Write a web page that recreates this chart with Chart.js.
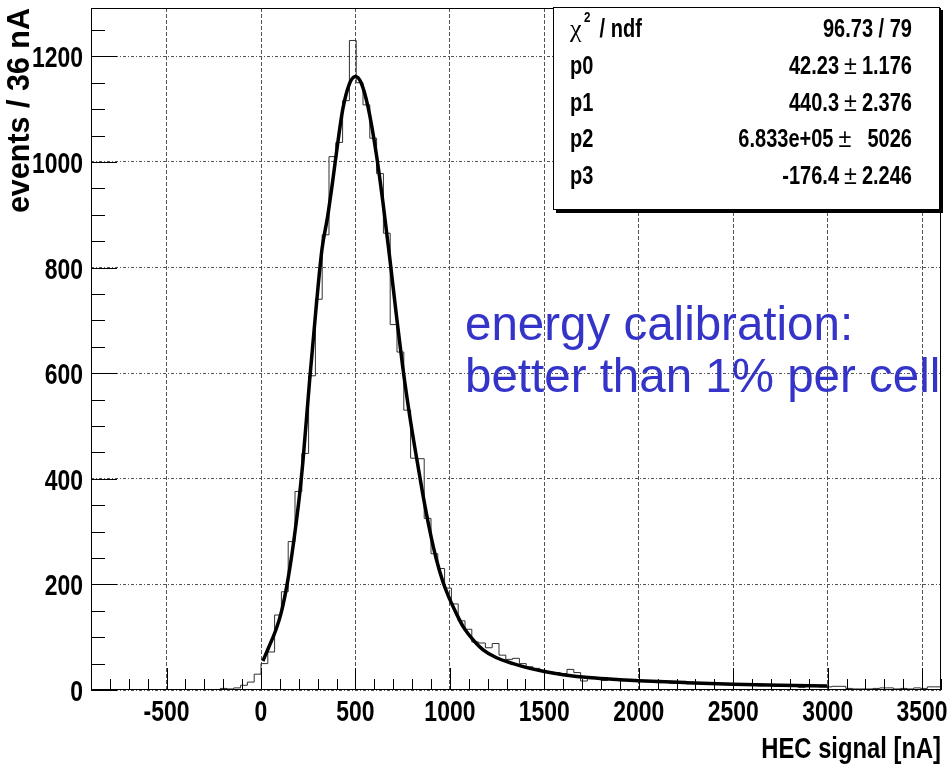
<!DOCTYPE html>
<html><head><meta charset="utf-8">
<script src="https://cdn.jsdelivr.net/npm/chart.js@4.4.1/dist/chart.umd.min.js"></script>
<style>html,body{margin:0;padding:0;background:#fff;}#wrap{width:950px;height:766px;position:relative;}</style>
</head><body><div id="wrap"><canvas id="c" width="950" height="766"></canvas></div>
<script>
// ---- data ----
const binLow = -900;
const binWidth = 36;
const counts = [
  0,0,0,0,0,0,0,0,0,0,0,0,0,0,0,0,0,
  1,1,3,2,4,9,15,30,
  50,72,142,186,281,376,448,595,740,862,
  1010,1037,1116,1230,1150,1108,1045,978,865,692,
  640,530,439,438,325,258,230,193,163,131,
  115,91,89,80,88,66,58,60,50,44,
  41,37,34,33,31,39,33,17,22,22,
  18,21,20,19,20,17,16,16,14,15,
  13,14,12,13,12,11,13,11,10,11,
  9,10,9,8,9,8,8,7,8,5,
  7,7,6,6,7,7,3,2,2,2,
  3,4,4,2,3,2,4,3,6,6
];
const fitX = [10,40,80,106,133,160,186,205,222,256,292,323,352,380,406,433,468,500,530,566,610,645,681,716,751,787,822,857,893,928,963,999,1034,1070,1123,1176,1247,1335,1423,1500,1600,1750,1900,2000,2250,2500,2750,3000];
const fitY = [55,80,115,145,190,248,316,372,433,580,725,835,895,965,1035,1100,1148,1162,1150,1105,1016,925,820,712,610,520,443,370,303,248,205,172,145,120,95,76,61,50,41,35,29,23,19.5,17.5,14,11,9,7.5];
const xTicks = [-500,0,500,1000,1500,2000,2500,3000,3500];
const yTicks = [0,200,400,600,800,1000,1200];
const xRange = [-900, 3600];
const yRange = [0, 1291.5];
const xTitle = 'HEC signal [nA]';
const yTitle = 'events / 36 nA';
const chiLabel = ['\u03c7', '2', ' / ndf'];
const chiValue = '96.73 / 79';
const parLabels = ['p0','p1','p2','p3'];
const parValues = ['42.23','440.3','6.833e+05','-176.4'];
const parErrors = ['1.176','2.376','  5026','2.246'];
const noteLines = ['energy calibration:', 'better than 1% per cell'];

// ---- build library structures ----
const histPts = counts.map((c, i) => ({x: binLow + i * binWidth, y: c}));
histPts.push({x: binLow + counts.length * binWidth, y: counts[counts.length - 1]});
const fitPts = fitX.map((x, i) => ({x: x, y: fitY[i]}));

const SANS = "'Liberation Sans', Arial, sans-serif";

function narrowText(ctx, text, x, y, align, font, k) {
  ctx.save();
  ctx.font = font;
  ctx.textAlign = align;
  ctx.textBaseline = 'alphabetic';
  ctx.translate(x, y);
  ctx.scale(k, 1);
  ctx.fillText(text, 0, 0);
  const w = ctx.measureText(text).width * k;
  ctx.restore();
  return w;
}

const decor = {
  id: 'decor',
  afterDatasetsDraw(chart) {
    const {ctx, chartArea: a, scales: {x, y}} = chart;
    ctx.save();
    ctx.strokeStyle = '#000';
    ctx.lineWidth = 1;
    ctx.beginPath();
    for (let v = xRange[0]; v <= xRange[1]; v += 100) {
      const px = Math.round(x.getPixelForValue(v)) + 0.5;
      const len = (v % 500 === 0) ? 22 : 11;
      ctx.moveTo(px, a.bottom);
      ctx.lineTo(px, a.bottom - len);
    }
    for (let v = yRange[0]; v <= yRange[1]; v += 50) {
      const py = Math.round(y.getPixelForValue(v)) + 0.5;
      const len = (v % 200 === 0) ? 26 : 14;
      ctx.moveTo(a.left, py);
      ctx.lineTo(a.left + len, py);
    }
    ctx.stroke();
    ctx.strokeRect(a.left + 0.5, a.top + 0.5, a.right - a.left - 1, a.bottom - a.top - 1);
    ctx.fillStyle = '#000';
    const tf = "bold 30px " + SANS;
    xTicks.forEach(v => narrowText(ctx, String(v), x.getPixelForValue(v), a.bottom + 31, 'center', tf, 0.765));
    yTicks.forEach(v => narrowText(ctx, String(v), a.left - 8, y.getPixelForValue(v) + 11, 'right', tf, 0.765));
    narrowText(ctx, xTitle, a.right, 758, 'right', "bold 29px " + SANS, 0.82);
    ctx.restore();
  },
  afterDraw(chart) {
    const ctx = chart.ctx;
    ctx.save();
    // stats box
    const bx = 553, by = 7, bw = 387, bh = 203;
    ctx.fillStyle = '#000';
    ctx.fillRect(bx + 3, by + 3, bw, bh);
    ctx.fillStyle = '#fff';
    ctx.fillRect(bx, by, bw, bh);
    ctx.strokeStyle = '#000';
    ctx.lineWidth = 1;
    ctx.strokeRect(bx + 0.5, by + 0.5, bw - 1, bh - 1);
    ctx.fillStyle = '#000';
    const rowY = [37, 74, 111, 147, 184];
    const sf = "bold 26px " + SANS;
    const K = 0.77;
    ctx.font = "26px 'Liberation Serif', serif";
    ctx.textAlign = 'left';
    ctx.textBaseline = 'alphabetic';
    ctx.fillText(chiLabel[0], 570, rowY[0]);
    narrowText(ctx, chiLabel[1], 584, rowY[0] - 15, 'left', "bold 15px " + SANS, K);
    narrowText(ctx, chiLabel[2], 594, rowY[0], 'left', sf, K);
    narrowText(ctx, chiValue, 912, rowY[0], 'right', sf, K);
    parLabels.forEach((l, i) => {
      narrowText(ctx, l, 570, rowY[i + 1], 'left', sf, K);
      const we = narrowText(ctx, parErrors[i], 912, rowY[i + 1], 'right', sf, K);
      const pmX = 912 - we - 5;
      const wp = narrowText(ctx, '\u00b1', pmX, rowY[i + 1], 'right', "26px " + SANS, 0.9);
      narrowText(ctx, parValues[i], pmX - wp - 5, rowY[i + 1], 'right', sf, K);
    });
    // note
    ctx.textAlign = 'left';
    ctx.fillStyle = '#3434c8';
    ctx.font = "47.5px " + SANS;
    ctx.fillText(noteLines[0], 465, 340);
    ctx.fillText(noteLines[1], 465, 392);
    ctx.restore();
  }
};

new Chart(document.getElementById('c'), {
  type: 'line',
  data: {
    datasets: [
      {data: fitPts, borderColor: '#000', borderWidth: 3.5, pointRadius: 0, cubicInterpolationMode: 'monotone', order: 0, fill: false},
      {data: histPts, borderColor: '#303030', borderWidth: 1, pointRadius: 0, stepped: true, order: 1, fill: false}
    ]
  },
  options: {
    responsive: false,
    animation: false,
    events: [],
    layout: {padding: {left: 0, right: 9, top: 8, bottom: 0}},
    plugins: {legend: {display: false}, tooltip: {enabled: false}},
    scales: {
      x: {
        type: 'linear', min: xRange[0], max: xRange[1],
        afterBuildTicks: s => { s.ticks = xTicks.map(v => ({value: v})); },
        afterFit: s => { s.height = 76; },
        grid: {color: '#555', lineWidth: 1, drawTicks: false},
        border: {display: false, dash: [4, 2]},
        ticks: {display: false},
        title: {display: false}
      },
      y: {
        type: 'linear', min: yRange[0], max: yRange[1],
        afterBuildTicks: s => { s.ticks = yTicks.map(v => ({value: v})); },
        afterFit: s => { s.width = 91; },
        grid: {color: '#555', lineWidth: 1, drawTicks: false},
        border: {display: false, dash: [3, 2, 1, 2]},
        ticks: {display: false},
        title: {display: true, text: yTitle, align: 'end', color: '#000', padding: {top: 2, bottom: 0},
                font: {family: SANS, size: 30.5, weight: 'bold'}}
      }
    }
  },
  plugins: [decor]
});
</script></body></html>
